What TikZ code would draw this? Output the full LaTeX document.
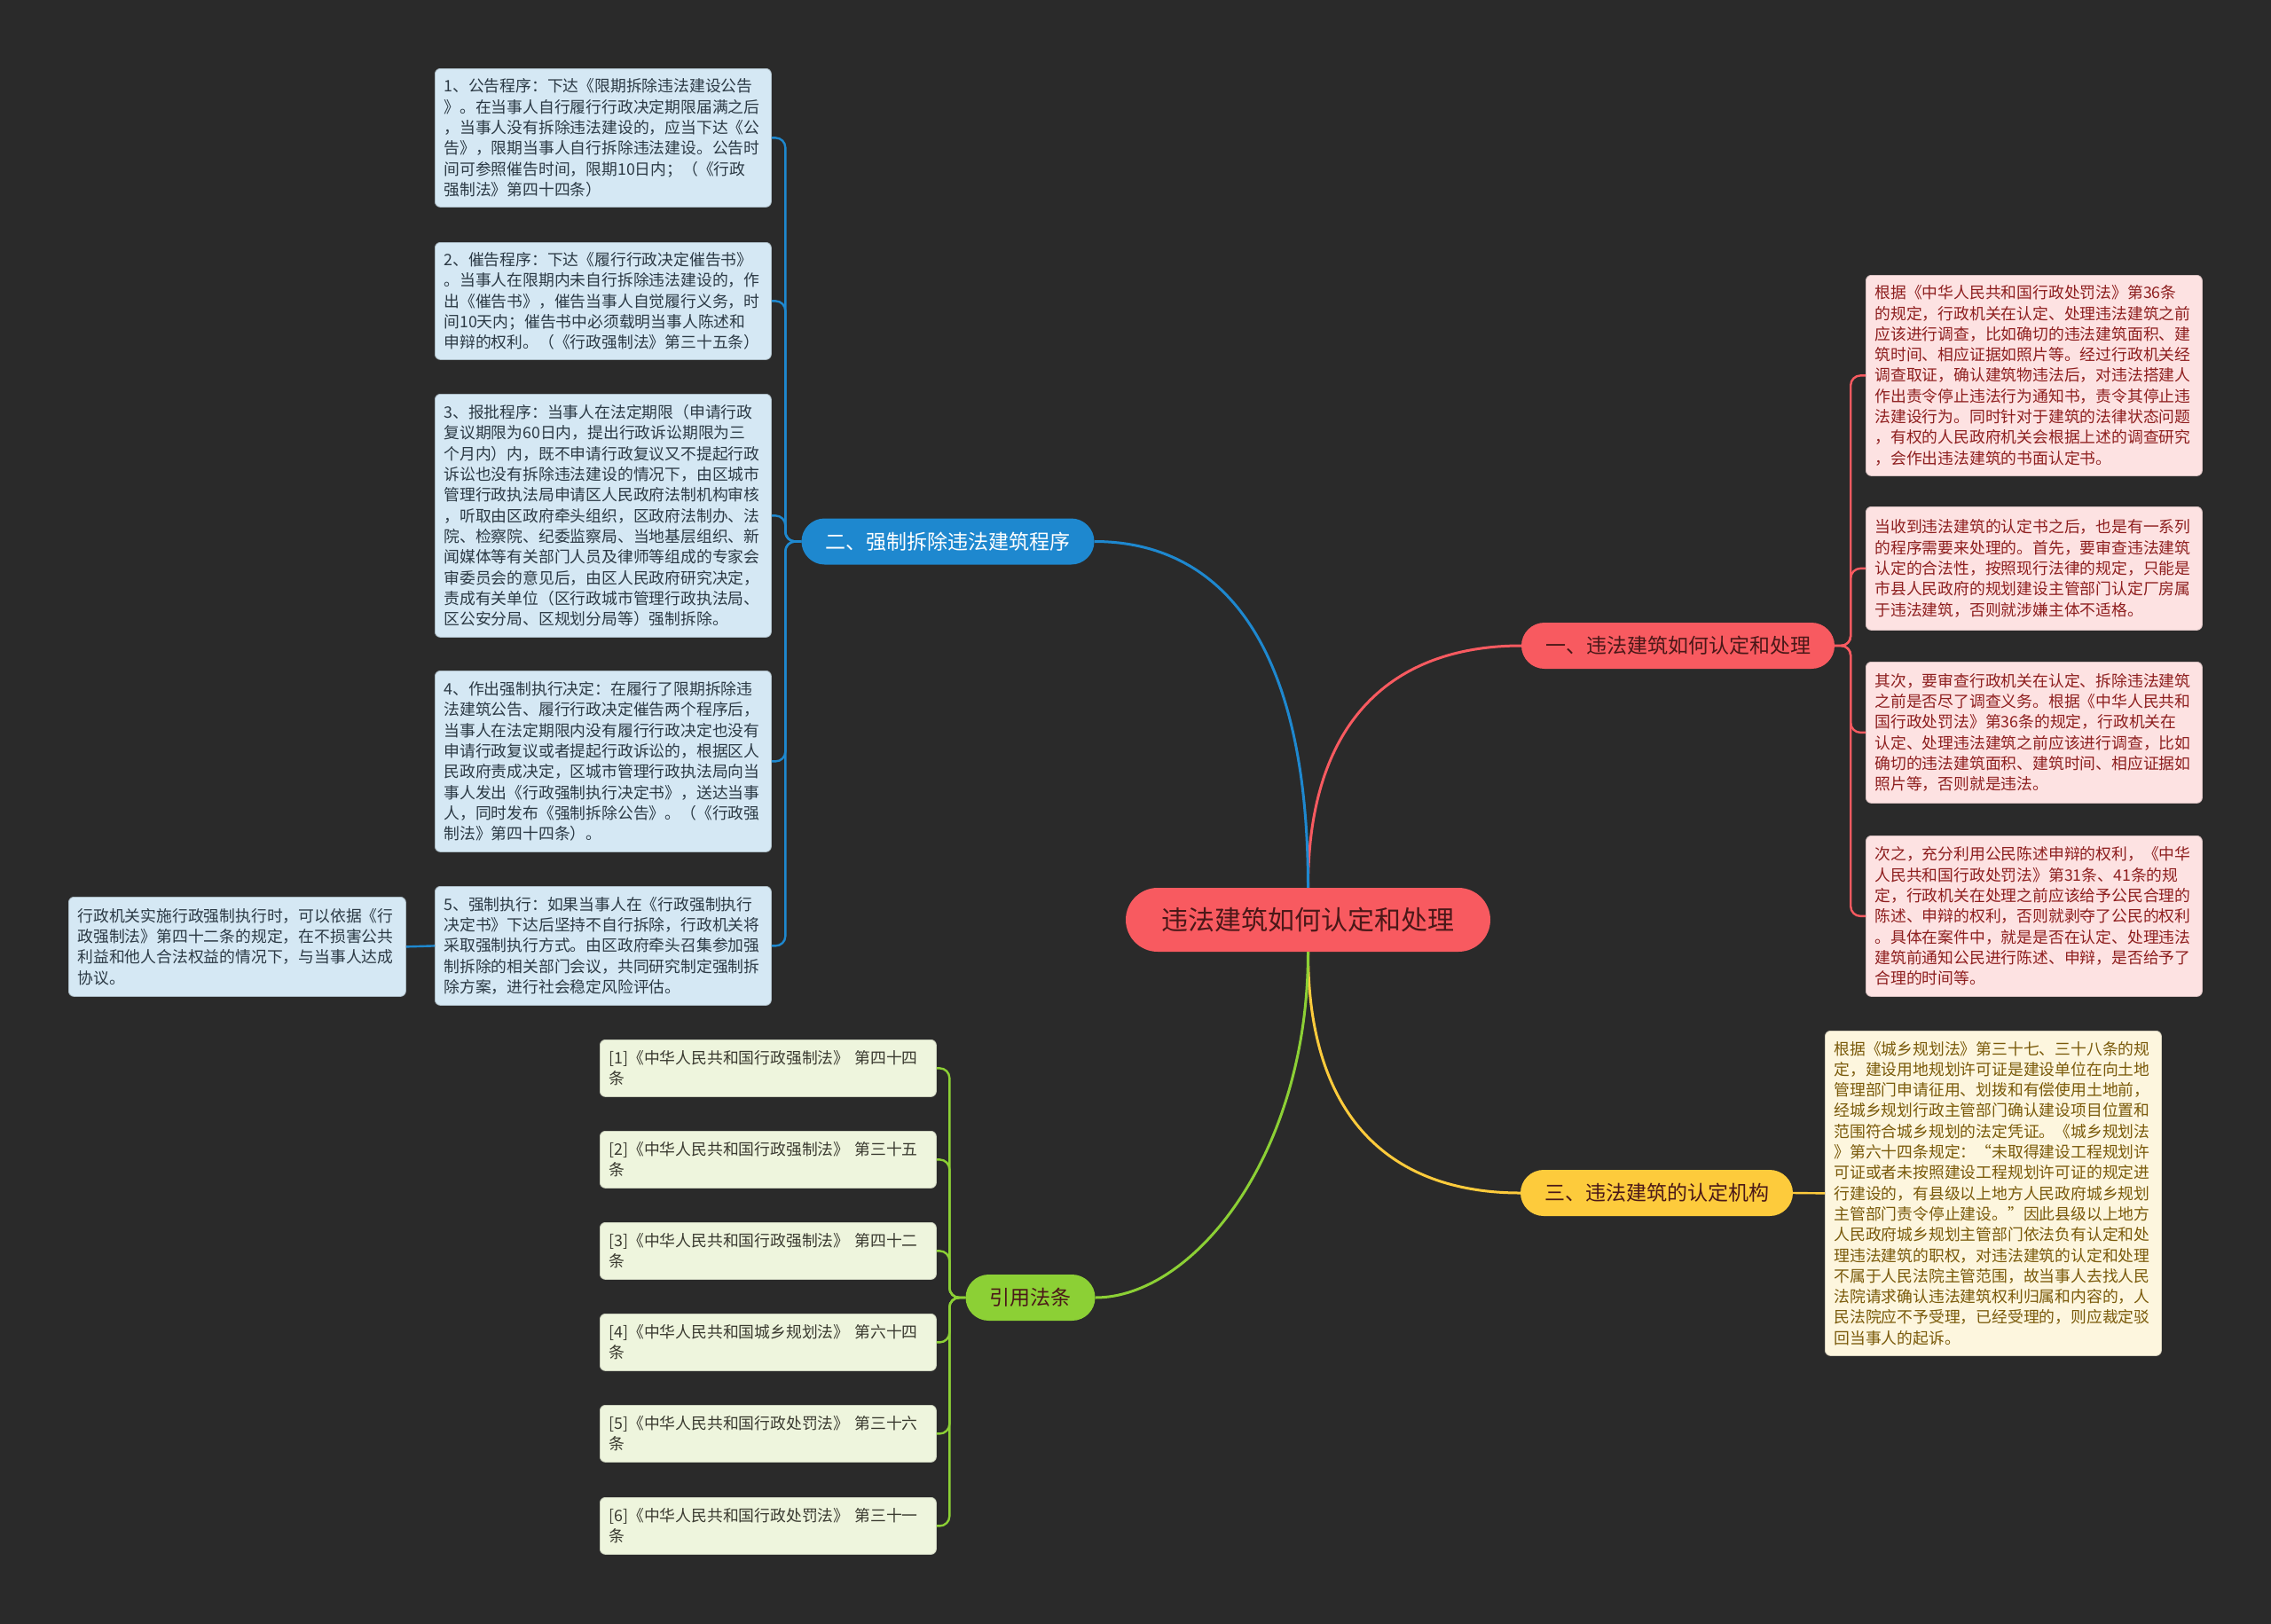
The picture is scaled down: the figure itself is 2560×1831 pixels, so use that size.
\documentclass[tikz,border=0pt]{standalone}
\usepackage{fontspec}
\setmainfont{Noto Sans CJK SC}
\definecolor{bg}{HTML}{2A2A2A}
\definecolor{cred}{HTML}{F85A60}
\definecolor{cblue}{HTML}{1E88CF}
\definecolor{cyellow}{HTML}{FDCB3C}
\definecolor{cgreen}{HTML}{8CD035}
\definecolor{darktxt}{HTML}{4A1818}
\definecolor{bfill}{HTML}{D5E8F4}
\definecolor{btxt}{HTML}{2C3A45}
\definecolor{rfill}{HTML}{FDE2E2}
\definecolor{rtxt}{HTML}{8E1F1F}
\definecolor{yfill}{HTML}{FDF6DE}
\definecolor{ytxt}{HTML}{7A5A0A}
\definecolor{gfill}{HTML}{EEF5DD}
\definecolor{gtxt}{HTML}{3A3A30}
\begin{document}
\begin{tikzpicture}[x=1pt,y=-1pt,
  txtbox/.style={rounded corners=6pt, inner xsep=10pt, inner ysep=0pt, text width=359pt, align=left, anchor=north west, font=\fontsize{17.8pt}{23.3pt}\selectfont},
  lbox/.style={txtbox, fill=bfill, draw=bfill!80!black, line width=0.8pt, text=btxt},
  rbox/.style={txtbox, fill=rfill, draw=rfill!85!black, line width=0.8pt, text=rtxt},
  ybox/.style={txtbox, fill=yfill, draw=yfill!85!black, line width=0.8pt, text=ytxt},
  gbox/.style={txtbox, fill=gfill, draw=gfill!85!black, line width=0.8pt, text=gtxt, minimum height=64pt},
  branch/.style={rounded corners=26pt, minimum height=52pt, inner xsep=27pt, inner ysep=0pt, font=\fontsize{23pt}{28pt}\selectfont},
  mainline/.style={line width=3pt},
  subline/.style={line width=2.4pt, rounded corners=11pt}
]
\fill[bg] (0,0) rectangle (2560,1831);
\useasboundingbox (0,0) rectangle (2560,1831);

% central
\node[fill=cred, text=darktxt, rounded corners=36pt, minimum width=411pt, minimum height=72pt, inner sep=0pt, font=\fontsize{30pt}{36pt}\selectfont] (c) at (1474.5,1037) {违法建筑如何认定和处理};

% branches
\node[branch, fill=cred, text=darktxt] (b1) at (1891.5,728) {一、违法建筑如何认定和处理};
\node[branch, fill=cblue, text=white] (b2) at (1068.5,610.5) {二、强制拆除违法建筑程序};
\node[branch, fill=cyellow, text=darktxt] (b3) at (1867.5,1345) {三、违法建筑的认定机构};
\node[branch, fill=cgreen, text=darktxt] (b4) at (1161.5,1463) {引用法条};

% main connectors
\draw[mainline, cred] (c.north) .. controls +(0,-200) and +(-134,0) .. (b1.west);
\draw[mainline, cblue] (c.north) .. controls +(0,-300) and +(126,0) .. (b2.east);
\draw[mainline, cyellow] (c.south) .. controls +(0,200) and +(-134,0) .. (b3.west);
\draw[mainline, cgreen] (c.south) .. controls +(0,230) and +(110,0) .. (b4.east);

% left (blue) boxes
\node[lbox, minimum height=156pt] (l1) at (490,77) {1、公告程序：下达《限期拆除违法建设公告\\
》。在当事人自行履行行政决定期限届满之后\\
，当事人没有拆除违法建设的，应当下达《公\\
告》，限期当事人自行拆除违法建设。公告时\\
间可参照催告时间，限期10日内；（《行政\\
强制法》第四十四条）};
\node[lbox, minimum height=132pt] (l2) at (490,273) {2、催告程序：下达《履行行政决定催告书》\\
。当事人在限期内未自行拆除违法建设的，作\\
出《催告书》，催告当事人自觉履行义务，时\\
间10天内；催告书中必须载明当事人陈述和\\
申辩的权利。（《行政强制法》第三十五条）};
\node[lbox, minimum height=274pt] (l3) at (490,444) {3、报批程序：当事人在法定期限（申请行政\\
复议期限为60日内，提出行政诉讼期限为三\\
个月内）内，既不申请行政复议又不提起行政\\
诉讼也没有拆除违法建设的情况下，由区城市\\
管理行政执法局申请区人民政府法制机构审核\\
，听取由区政府牵头组织，区政府法制办、法\\
院、检察院、纪委监察局、当地基层组织、新\\
闻媒体等有关部门人员及律师等组成的专家会\\
审委员会的意见后，由区人民政府研究决定，\\
责成有关单位（区行政城市管理行政执法局、\\
区公安分局、区规划分局等）强制拆除。};
\node[lbox, minimum height=204pt] (l4) at (490,756) {4、作出强制执行决定：在履行了限期拆除违\\
法建筑公告、履行行政决定催告两个程序后，\\
当事人在法定期限内没有履行行政决定也没有\\
申请行政复议或者提起行政诉讼的，根据区人\\
民政府责成决定，区城市管理行政执法局向当\\
事人发出《行政强制执行决定书》，送达当事\\
人，同时发布《强制拆除公告》。（《行政强\\
制法》第四十四条）。};
\node[lbox, minimum height=134pt] (l5) at (490,999) {5、强制执行：如果当事人在《行政强制执行\\
决定书》下达后坚持不自行拆除，行政机关将\\
采取强制执行方式。由区政府牵头召集参加强\\
制拆除的相关部门会议，共同研究制定强制拆\\
除方案，进行社会稳定风险评估。};
\node[lbox, minimum height=112pt, text width=360pt] (l6) at (77,1011) {行政机关实施行政强制执行时，可以依据《行\\
政强制法》第四十二条的规定，在不损害公共\\
利益和他人合法权益的情况下，与当事人达成\\
协议。};

\foreach \n in {l1,l2,l3,l4,l5}
  \draw[subline, cblue] (b2.west) -- ++(-18,0) |- (\n.east);
\draw[subline, cblue] (l5.west) -- (l6.east);

% right (red) boxes
\node[rbox, minimum height=226pt] (r1) at (2103,310) {根据《中华人民共和国行政处罚法》第36条\\
的规定，行政机关在认定、处理违法建筑之前\\
应该进行调查，比如确切的违法建筑面积、建\\
筑时间、相应证据如照片等。经过行政机关经\\
调查取证，确认建筑物违法后，对违法搭建人\\
作出责令停止违法行为通知书，责令其停止违\\
法建设行为。同时针对于建筑的法律状态问题\\
，有权的人民政府机关会根据上述的调查研究\\
，会作出违法建筑的书面认定书。};
\node[rbox, minimum height=139pt] (r2) at (2103,571) {当收到违法建筑的认定书之后，也是有一系列\\
的程序需要来处理的。首先，要审查违法建筑\\
认定的合法性，按照现行法律的规定，只能是\\
市县人民政府的规划建设主管部门认定厂房属\\
于违法建筑，否则就涉嫌主体不适格。};
\node[rbox, minimum height=159pt] (r3) at (2103,746) {其次，要审查行政机关在认定、拆除违法建筑\\
之前是否尽了调查义务。根据《中华人民共和\\
国行政处罚法》第36条的规定，行政机关在\\
认定、处理违法建筑之前应该进行调查，比如\\
确切的违法建筑面积、建筑时间、相应证据如\\
照片等，否则就是违法。};
\node[rbox, minimum height=181pt] (r4) at (2103,942) {次之，充分利用公民陈述申辩的权利，《中华\\
人民共和国行政处罚法》第31条、41条的规\\
定，行政机关在处理之前应该给予公民合理的\\
陈述、申辩的权利，否则就剥夺了公民的权利\\
。具体在案件中，就是是否在认定、处理违法\\
建筑前通知公民进行陈述、申辩，是否给予了\\
合理的时间等。};

\foreach \n in {r1,r2,r3,r4}
  \draw[subline, cred] (b1.east) -- ++(18,0) |- (\n.west);

% yellow box
\node[ybox, minimum height=366pt] (y1) at (2057,1162) {根据《城乡规划法》第三十七、三十八条的规\\
定，建设用地规划许可证是建设单位在向土地\\
管理部门申请征用、划拨和有偿使用土地前，\\
经城乡规划行政主管部门确认建设项目位置和\\
范围符合城乡规划的法定凭证。《城乡规划法\\
》第六十四条规定：“未取得建设工程规划许\\
可证或者未按照建设工程规划许可证的规定进\\
行建设的，有县级以上地方人民政府城乡规划\\
主管部门责令停止建设。”因此县级以上地方\\
人民政府城乡规划主管部门依法负有认定和处\\
理违法建筑的职权，对违法建筑的认定和处理\\
不属于人民法院主管范围，故当事人去找人民\\
法院请求确认违法建筑权利归属和内容的，人\\
民法院应不予受理，已经受理的，则应裁定驳\\
回当事人的起诉。};
\draw[subline, cyellow] (b3.east) -- (y1.west);

% green boxes
\node[gbox] (g1) at (676,1172) {[1]《中华人民共和国行政强制法》 第四十四\\条};
\node[gbox] (g2) at (676,1275) {[2]《中华人民共和国行政强制法》 第三十五\\条};
\node[gbox] (g3) at (676,1378) {[3]《中华人民共和国行政强制法》 第四十二\\条};
\node[gbox] (g4) at (676,1481) {[4]《中华人民共和国城乡规划法》 第六十四\\条};
\node[gbox] (g5) at (676,1584) {[5]《中华人民共和国行政处罚法》 第三十六\\条};
\node[gbox] (g6) at (676,1688) {[6]《中华人民共和国行政处罚法》 第三十一\\条};

\foreach \n in {g1,g2,g3,g4,g5,g6}
  \draw[subline, cgreen] (b4.west) -- ++(-18,0) |- (\n.east);
\end{tikzpicture}
\end{document}
